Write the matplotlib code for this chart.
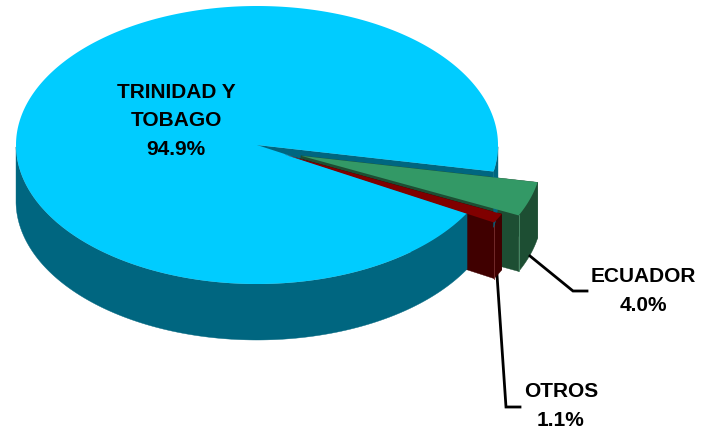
import numpy as np
import matplotlib
matplotlib.use('Agg')
import matplotlib.pyplot as plt
from matplotlib.patches import Polygon

labels = ['TRINIDAD Y\nTOBAGO', 'ECUADOR', 'OTROS']
values = [94.9, 4.0, 1.1]
top_colors = ['#00CCFF', '#339966', '#800000']
side_colors = ['#006680', '#1D4E33', '#400000']
seam_colors = ['#006680', '#4F8F6C', '#7A3030']

W, H = 702, 430
cx, cy = 257, 145
rx, ry = 241, 139
depth = 56
start = -11  # top edge of the ecuador slice, angle on the ellipse
offsets = [(0, 0), (44, 10.8), (27, 9.4)]

plt.rcParams['font.family'] = ['Liberation Sans', 'DejaVu Sans']
fig = plt.figure(figsize=(W/100, H/100), dpi=100)
ax = fig.add_axes([0, 0, 1, 1])
ax.set_xlim(0, W)
ax.set_ylim(H, 0)
ax.axis('off')

down = np.array([0, depth])


def rim(a, b, off, n=400):
    t = np.linspace(a, b, n)
    r = np.radians(t)
    return t, np.column_stack((cx+off[0]+rx*np.cos(r), cy+off[1]-ry*np.sin(r)))


def apex(off):
    return np.array([cx+off[0], cy+off[1]])


def cut_face(angle, off, color, z):
    _, p = rim(angle, angle, off, 1)
    p = p[0]
    a = apex(off)
    ax.add_patch(Polygon([a, p, p+down, a+down], fc=color, ec=color, lw=0.3, zorder=z))


def wall(a, b, off, color, z):
    # only the part of the rim facing the viewer
    t, pts = rim(a, b, off)
    front = np.sin(np.radians(t)) < 0
    idx = np.flatnonzero(np.diff(front.astype(int)))+1
    for run, mask in zip(np.split(pts, idx), np.split(front, idx)):
        if mask[0]:
            ax.add_patch(Polygon(np.vstack((run, run[::-1]+down)), fc=color, ec=color, lw=0.3, zorder=z))


def top(a, b, off, color, z):
    _, pts = rim(a, b, off)
    ax.add_patch(Polygon(np.vstack((apex(off), pts)), fc=color, ec='none', zorder=z))


def seam(angle, off, color, z):
    # thin lighter line down the corner of a pulled out slice
    _, p = rim(angle, angle, off, 1)
    p = p[0]
    ax.plot([p[0], p[0]], [p[1], p[1]+depth], color=color, lw=0.6, zorder=z)


# slices run clockwise from the start angle: ecuador, otros, then the big one
g0, g1 = start, start-values[1]*3.6
o0, o1 = g1, g1-values[2]*3.6
b0, b1 = o1, o1-values[0]*3.6

cut_face(b1, offsets[0], side_colors[0], 1)
cut_face(g0, offsets[1], side_colors[1], 2)
cut_face(g1, offsets[1], side_colors[1], 2)
wall(g0, g1, offsets[1], side_colors[1], 2)
seam(g1, offsets[1], seam_colors[1], 2.5)
cut_face(o0, offsets[2], side_colors[2], 3)
cut_face(o1, offsets[2], side_colors[2], 3)
wall(o0, o1, offsets[2], side_colors[2], 3)
seam(o1, offsets[2], seam_colors[2], 3.5)
wall(b0, b1, offsets[0], side_colors[0], 4)
top(b0, b1, offsets[0], top_colors[0], 5)
top(g0, g1, offsets[1], top_colors[1], 6)
top(o0, o1, offsets[2], top_colors[2], 7)

# leader lines
ax.plot([530, 573, 587], [256, 291, 291], color='black', lw=2, zorder=2, solid_joinstyle='miter')
ax.plot([497, 506, 520], [275, 407, 407], color='black', lw=2, zorder=2, solid_joinstyle='miter')

fs = 15
ax.text(176, 121, f'{labels[0]}\n{values[0]}%', ha='center', va='center', fontsize=fs,
        fontweight='bold', linespacing=1.62, zorder=8)
ax.text(643, 291, f'{labels[1]}\n{values[1]}%', ha='center', va='center', fontsize=fs,
        fontweight='bold', linespacing=1.62, zorder=8)
ax.text(561, 406, f'{labels[2]}\n{values[2]}%', ha='center', va='center', fontsize=fs,
        fontweight='bold', linespacing=1.62, zorder=8)

fig.savefig('out.png', dpi=100)
